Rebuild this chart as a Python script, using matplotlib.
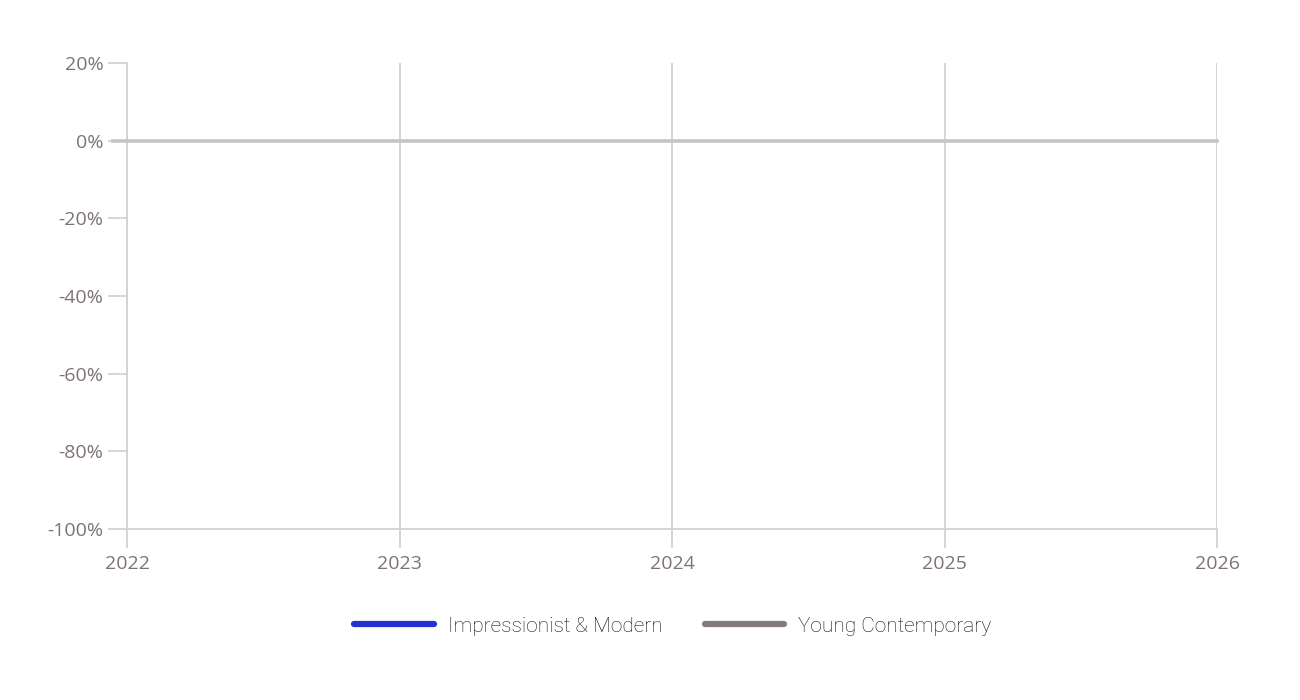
import matplotlib
matplotlib.use("Agg")
import matplotlib.pyplot as plt
from matplotlib.ticker import FuncFormatter

# Data (series have no visible points in the reference)
years = [2022, 2023, 2024, 2025, 2026]
y_ticks = [20, 0, -20, -40, -60, -80, -100]
series_names = ["Impressionist & Modern", "Young Contemporary"]
impressionist_x = []
impressionist_y = []
young_x = []
young_y = []
series_colors = ["#2231cf", "#867b7b"]

plt.rcParams['font.family'] = ['Open Sans', 'DejaVu Sans']
text_color = "#7d7374"
grid_color = "#d5d1d2"

fig = plt.figure(figsize=(13, 7), dpi=100)
ax = fig.add_axes([127/1300, 1-529/700, (1217-127)/1300, (529-63)/700])

ax.plot(impressionist_x, impressionist_y, color=series_colors[0], lw=4.5,
        solid_capstyle='round', label=series_names[0])
ax.plot(young_x, young_y, color=series_colors[1], lw=4.5,
        solid_capstyle='round', label=series_names[1])

ax.set_xlim(years[0], years[-1])
ax.set_ylim(min(y_ticks), max(y_ticks))
ax.set_xticks(years)
ax.set_yticks(y_ticks)
ax.yaxis.set_major_formatter(FuncFormatter(lambda v, p: f"{int(v)}%"))

for s in ["top", "right"]:
    ax.spines[s].set_visible(False)
for s in ["left", "bottom"]:
    ax.spines[s].set_color(grid_color)
    ax.spines[s].set_linewidth(1.3)

ax.tick_params(axis='both', colors=grid_color, labelcolor=text_color,
               labelsize=14, length=14, width=1.3)
ax.tick_params(axis='x', pad=5)
ax.tick_params(axis='y', pad=3)

ax.grid(axis='x', color=grid_color, lw=1.3)
ax.grid(axis='y', visible=False)

# zero line (extends over the tick)
ax.plot([-14/1090, 1], [0, 0], transform=ax.get_yaxis_transform(),
        color="#c6c4c4", lw=2.6, clip_on=False, zorder=3)

leg = fig.legend(loc='center', bbox_to_anchor=(673/1300, 1-626/700), ncol=2,
                 frameon=False, handlelength=3.8, handletextpad=0.7,
                 columnspacing=2.0, prop={'family': ['Roboto'], 'size': 15,
                                          'weight': 'light'})
for t in leg.get_texts():
    t.set_color("#111111")

fig.savefig("out.png", dpi=100)
